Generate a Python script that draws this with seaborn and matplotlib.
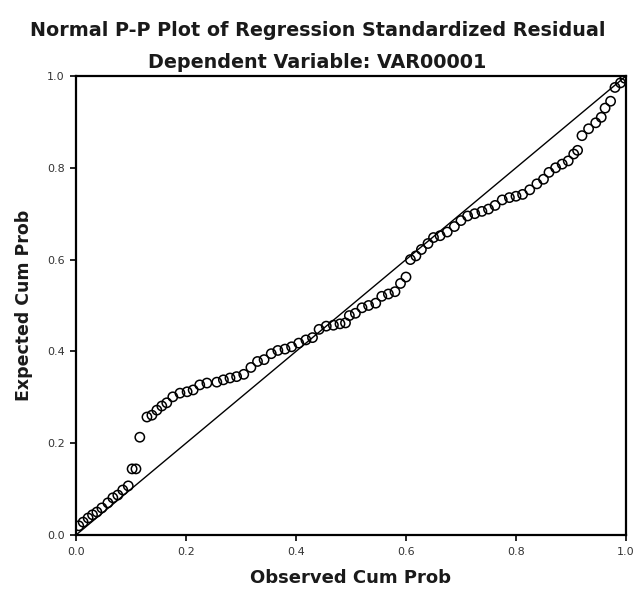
import matplotlib
matplotlib.use("Agg")
import matplotlib.pyplot as plt
import seaborn as sns
import pandas as pd

observed = [0.005, 0.013, 0.022, 0.030, 0.038, 0.047, 0.058, 0.067, 0.076, 0.085,
            0.095, 0.102, 0.109, 0.116, 0.129, 0.138, 0.147, 0.156, 0.165, 0.176,
            0.189, 0.202, 0.213, 0.225, 0.238, 0.256, 0.268, 0.280, 0.292, 0.305,
            0.318, 0.330, 0.342, 0.355, 0.367, 0.380, 0.392, 0.405, 0.418, 0.430,
            0.442, 0.455, 0.468, 0.480, 0.490, 0.497, 0.508, 0.520, 0.532, 0.545,
            0.556, 0.568, 0.580, 0.590, 0.600, 0.608, 0.618, 0.628, 0.640, 0.650,
            0.662, 0.675, 0.688, 0.700, 0.712, 0.725, 0.738, 0.750, 0.762, 0.775,
            0.788, 0.800, 0.812, 0.825, 0.838, 0.850, 0.860, 0.872, 0.884, 0.895,
            0.905, 0.912, 0.920, 0.932, 0.945, 0.955, 0.962, 0.972, 0.980, 0.990,
            0.998]
expected = [0.020, 0.028, 0.037, 0.044, 0.050, 0.059, 0.070, 0.081, 0.087, 0.098,
            0.107, 0.144, 0.144, 0.213, 0.257, 0.261, 0.272, 0.281, 0.288, 0.301,
            0.309, 0.312, 0.316, 0.327, 0.331, 0.333, 0.338, 0.342, 0.345, 0.350,
            0.365, 0.378, 0.382, 0.395, 0.402, 0.405, 0.410, 0.418, 0.425, 0.430,
            0.448, 0.455, 0.457, 0.460, 0.462, 0.478, 0.483, 0.495, 0.500, 0.505,
            0.520, 0.525, 0.530, 0.548, 0.562, 0.600, 0.608, 0.622, 0.635, 0.648,
            0.652, 0.660, 0.672, 0.685, 0.695, 0.700, 0.705, 0.710, 0.718, 0.730,
            0.735, 0.738, 0.742, 0.752, 0.765, 0.775, 0.790, 0.800, 0.808, 0.815,
            0.830, 0.838, 0.870, 0.885, 0.898, 0.910, 0.930, 0.945, 0.975, 0.985,
            0.995]
ref_line = [0.0, 1.0]
ticks = [0.0, 0.2, 0.4, 0.6, 0.8, 1.0]
tick_labels = ["0.0", "0.2", "0.4", "0.6", "0.8", "1.0"]

title1 = "Normal P-P Plot of Regression Standardized Residual"
title2 = "Dependent Variable: VAR00001"
xlabel = "Observed Cum Prob"
ylabel = "Expected Cum Prob"

sns.set_style("ticks")
plt.rcParams["font.family"] = ["DejaVu Sans"]

df = pd.DataFrame({"Observed": observed, "Expected": expected})
line_df = pd.DataFrame({"x": ref_line, "y": ref_line})

fig = plt.figure(figsize=(6.35, 5.89), dpi=100)
ax = fig.add_axes([0.1197, 0.0917, 0.8661, 0.7793])

sns.lineplot(data=line_df, x="x", y="y", ax=ax, color="black", linewidth=1.0)
sns.scatterplot(data=df, x="Observed", y="Expected", ax=ax, marker="o", s=45,
                facecolor="none", edgecolor="black", linewidth=1.1, zorder=3)

ax.set_xlim(0, 1)
ax.set_ylim(0, 1)
ax.set_xticks(ticks)
ax.set_yticks(ticks)
ax.set_xticklabels(tick_labels, fontsize=8)
ax.set_yticklabels(tick_labels, fontsize=8)
ax.tick_params(direction="out", length=4, width=1.2, colors="black", labelcolor="#333333")
ax.tick_params(axis="x", pad=5)
ax.tick_params(axis="y", pad=4)
for sp in ax.spines.values():
    sp.set_visible(True)
    sp.set_linewidth(1.6)
    sp.set_color("black")

ax.set_xlabel(xlabel, fontsize=13, fontweight="bold", labelpad=8, color="#1a1a1a")
ax.set_ylabel(ylabel, fontsize=12.5, fontweight="bold", labelpad=10, color="#1a1a1a")

fig.text(0.5, 1 - 30 / 589, title1, ha="center", va="center", fontsize=13.8,
         fontweight="bold", color="#1a1a1a")
fig.text(0.5, 1 - 63 / 589, title2, ha="center", va="center", fontsize=13.8,
         fontweight="bold", color="#1a1a1a")

fig.savefig("out.png", dpi=100)
